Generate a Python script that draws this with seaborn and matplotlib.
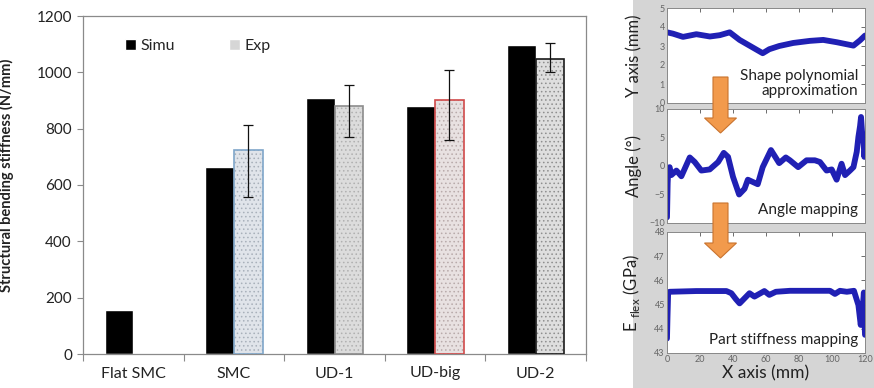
import numpy as np
import pandas as pd
import matplotlib
matplotlib.use("Agg")
import matplotlib.pyplot as plt
import matplotlib.patches as mpatches
import seaborn as sns

# ==========================================
# DATA
# ==========================================
CATEGORIES = ['Flat SMC', 'SMC', 'UD-1', 'UD-big', 'UD-2']
SIMU = [155, 665, 908, 880, 1096]
EXP = [np.nan, 723, 880, 902, 1048]
EXP_LOW = [np.nan, 556, 770, 758, 1001]    # bottom of error bar
EXP_HIGH = [np.nan, 812, 956, 1010, 1105]  # top of error bar

# profile along the part (right hand panels)
SHAPE_X = [0, 3.6, 9.7, 17.8, 26, 32, 38, 44, 51, 58, 62, 68, 76.5, 86.6, 94.7, 102.8, 113, 117, 120]
SHAPE_Y = [3.72, 3.65, 3.48, 3.62, 3.5, 3.57, 3.72, 3.32, 2.97, 2.62, 2.83, 3.0, 3.16, 3.27, 3.32, 3.2, 3.02, 3.3, 3.55]

ANGLE_X = [0, 0.2, 0.4, 0.8, 1.6, 2.6, 5.7, 8.7, 13.8, 16.8, 20.8, 25.9, 31, 34.4, 37, 40, 43.7, 47, 49,
           52, 55, 58, 63, 68, 72, 74.5, 79.5, 84.6, 89.6, 92.7, 96.7, 99.8, 102.8, 105.8, 107.9, 110.9,
           113, 115, 116, 117, 117.6, 118.2, 119, 119.6, 120]
ANGLE_Y = [-9.0, -6.0, -3.0, -0.5, -0.2, -1.6, -0.8, -1.8, 1.5, 0.7, -0.8, -0.6, 0.7, 2.3, 1.6, -1.9, -5.0, -4.0, -2.4,
           -2.8, -3.2, -0.2, 2.8, 0.5, 1.5, 1.0, -0.2, 1.0, 1.0, 0.7, -0.8, -0.6, -2.4, 0.4, -1.6, -0.8,
           -0.2, 2.5, 5.1, 7.0, 8.6, 6.0, 5.1, 1.6, 3.0]

EFLEX_X = [0, 0.3, 0.7, 1.6, 17.8, 36, 39, 41.7, 44, 47, 50, 53, 59, 62, 66, 74.5, 98.8, 101.8, 104.8,
           109, 113.3, 116, 117.4, 118.6, 119.3, 119.7, 120]
EFLEX_Y = [43.6, 44.5, 45.5, 45.53, 45.56, 45.56, 45.47, 45.23, 45.05, 45.26, 45.47, 45.33, 45.56, 45.4, 45.53,
           45.57, 45.57, 45.44, 45.57, 45.53, 45.57, 44.98, 44.16, 44.84, 45.5, 44.3, 43.75]

# styles of the experimental bars (one per category)
EXP_FACE = ['#dcdcdc', '#e0e4ea', '#dcdcdc', '#e8e1e1', '#dedede']
EXP_EDGE = ['#1a1a1a', '#7fa6c9', '#8c8c8c', '#d04a4a', '#1a1a1a']
EXP_DOTS = ['#a8a8a8', '#a8b0ba', '#b0b0b0', '#b8aaaa', '#8e8e8e']

W, H = 874, 388
FONT = ['Lato', 'DejaVu Sans']
LINE_BLUE = '#2020b4'
GRID_GRAY = '#8a8a8a'

sns.set_theme(style="white")
plt.rcParams['font.family'] = FONT
plt.rcParams['hatch.linewidth'] = 0.6


def style_profile_axis(ax, ylim, yticks, ylabel):
    ax.set_xlim(0, 120)
    ax.set_ylim(*ylim)
    ax.set_xticks(range(0, 121, 20))
    ax.set_yticks(yticks)
    ax.tick_params(direction='in', top=True, right=True, length=3, width=0.6,
                   color='#555555', labelsize=6.5, labelcolor='#666666', pad=1.5)
    for s in ax.spines.values():
        s.set_color('#888888')
        s.set_linewidth(0.7)
    ax.set_ylabel(ylabel, fontsize=12, color='#222222')
    ax.yaxis.set_label_coords(-0.125, 0.5)
    ax.set_xlabel('')


def make_figure():
    fig = plt.figure(figsize=(W / 100, H / 100), dpi=100)
    fig.patch.set_facecolor('white')

    # ==========================================
    # LEFT: bar chart
    # ==========================================
    ax = fig.add_axes([83 / W, 1 - 354 / H, 503 / W, 338 / H])

    rows = []
    for cat, s, e in zip(CATEGORIES, SIMU, EXP):
        rows.append({'Material': cat, 'Series': 'Simu', 'Stiffness': s})
        if not np.isnan(e):
            rows.append({'Material': cat, 'Series': 'Exp', 'Stiffness': e})
    df = pd.DataFrame(rows)

    sns.barplot(data=df, x='Material', y='Stiffness', hue='Series', order=CATEGORIES,
                hue_order=['Simu', 'Exp'], palette={'Simu': 'black', 'Exp': '#d9d9d9'},
                width=0.57, saturation=1, errorbar=None, legend=False, ax=ax)

    # restyle experimental bars + error bars
    for p in ax.containers[1]:
        cx = p.get_x() + p.get_width() / 2
        i = int(round(cx))
        p.set_facecolor(EXP_FACE[i])
        p.set_edgecolor(EXP_DOTS[i])
        p.set_hatch('....')
        p.set_linewidth(0)
        ax.add_patch(mpatches.Rectangle(p.get_xy(), p.get_width(), p.get_height(),
                                        fill=False, edgecolor=EXP_EDGE[i], lw=1.2, zorder=3))
        y = p.get_height()
        yerr = [[y - EXP_LOW[i]], [EXP_HIGH[i] - y]]
        ax.errorbar(cx, y, yerr=yerr, fmt='none', ecolor='#111111',
                    elinewidth=0.9, capsize=3.5, capthick=0.9, zorder=4)

    ax.set_xlim(-0.5, len(CATEGORIES) - 0.5)
    ax.set_ylim(0, 1200)
    ax.set_yticks(range(0, 1201, 200))
    ax.set_xticks(np.arange(len(CATEGORIES) + 1) - 0.5, minor=True)
    ax.tick_params(axis='x', which='major', length=0, labelsize=11.5, pad=9, labelcolor='#222222')
    ax.tick_params(axis='x', which='minor', length=5, width=0.8, color=GRID_GRAY, bottom=True)
    ax.tick_params(axis='y', length=4, width=0.8, color=GRID_GRAY, left=True,
                   labelsize=11, labelcolor='#222222', pad=4)
    for s in ax.spines.values():
        s.set_color(GRID_GRAY)
        s.set_linewidth(0.9)
    ax.set_xlabel('')
    ax.set_ylabel('Structural bending stiffness (N/mm)', fontsize=10.5, fontweight='bold', color='#222222')
    ax.yaxis.set_label_coords(-0.138, 0.53)

    handles = [mpatches.Patch(facecolor='black', label='Simu'),
               mpatches.Patch(facecolor='#d6d6d6', label='Exp')]
    ax.legend(handles=handles, loc='upper left', bbox_to_anchor=(0.055, 0.975), ncol=2,
              frameon=False, fontsize=11.5, handlelength=0.7, handleheight=0.7,
              handletextpad=0.25, columnspacing=3.4)

    # ==========================================
    # RIGHT: profile panels on grey background
    # ==========================================
    fig.patches.append(mpatches.Rectangle((633 / W, 0), 1 - 633 / W, 1, transform=fig.transFigure,
                                          facecolor='#d5d5d5', edgecolor='none', zorder=-5))

    left, width = 667 / W, 198 / W
    ax1 = fig.add_axes([left, 1 - 103 / H, width, 95 / H])
    ax2 = fig.add_axes([left, 1 - 223 / H, width, 114 / H])
    ax3 = fig.add_axes([left, 1 - 353 / H, width, 121 / H])

    panels = [
        (ax1, SHAPE_X, SHAPE_Y, (0, 5), range(0, 6), 'Y axis (mm)', 'Shape polynomial\napproximation'),
        (ax2, ANGLE_X, ANGLE_Y, (-10, 10), range(-10, 11, 5), 'Angle (°)', 'Angle mapping'),
        (ax3, EFLEX_X, EFLEX_Y, (43, 48), range(43, 49), r'E $_{\mathregular{flex}}$ (GPa)',
         'Part stiffness mapping'),
    ]
    for a, xs, ys, ylim, yt, ylab, note in panels:
        a.set_facecolor('white')
        sns.lineplot(x=xs, y=ys, ax=a, color=LINE_BLUE, linewidth=4.2, estimator=None, sort=False)
        style_profile_axis(a, ylim, yt, ylab)
        a.text(0.965, 0.05, note, transform=a.transAxes, ha='right', va='bottom',
               fontsize=11, color='#222222', multialignment='right', linespacing=1.15)

    ax1.tick_params(labelbottom=False)
    ax2.tick_params(labelbottom=False)
    ax3.set_xlabel('X axis (mm)', fontsize=12.5, color='#222222', labelpad=1)

    # orange arrows between panels
    ov = fig.add_axes([0, 0, 1, 1], zorder=10)
    ov.set_xlim(0, W)
    ov.set_ylim(H, 0)
    ov.axis('off')
    ov.patch.set_alpha(0)
    for y0, y1 in [(77, 133), (203, 258)]:
        ov.add_patch(mpatches.FancyArrow(720.5, y0, 0, y1 - y0, width=15, head_width=32,
                                         head_length=15, length_includes_head=True,
                                         facecolor='#f29a4c', edgecolor='#c9732e', lw=0.8))

    fig.savefig('out.png', dpi=100)


if __name__ == "__main__":
    make_figure()
